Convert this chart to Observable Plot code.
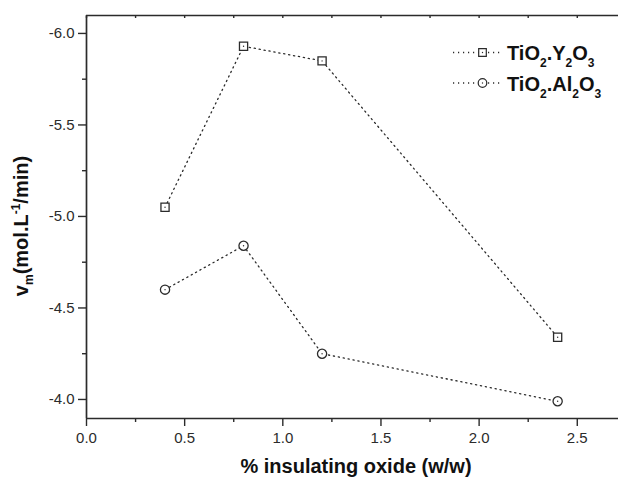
<!DOCTYPE html>
<html><head><meta charset="utf-8">
<script src="https://cdn.jsdelivr.net/npm/d3@7"></script>
<script src="https://cdn.jsdelivr.net/npm/@observablehq/plot@0.6"></script>
<style>
body{margin:0;background:#fff}
#chart svg{font-family:"Liberation Sans",Arial,sans-serif;background:#fff}
</style>
</head><body><div id="chart"></div>
<script>
const xPct = [0.4, 0.8, 1.2, 2.4];
const vmY2O3 = [-5.05, -5.93, -5.85, -4.34];
const vmAl2O3 = [-4.60, -4.84, -4.25, -3.99];
const xTicks = [0, 0.5, 1.0, 1.5, 2.0, 2.5];
const xMinor = [0.25, 0.75, 1.25, 1.75, 2.25];
const yTicks = [-6.0, -5.5, -5.0, -4.5, -4.0];
const yMinor = [-5.75, -5.25, -4.75, -4.25];
const seriesNames = ["TiO2.Y2O3", "TiO2.Al2O3"];
const seriesSymbols = ["square", "circle"];

const data = [
  ...xPct.map((x, i) => ({x, y: vmY2O3[i], s: seriesNames[0]})),
  ...xPct.map((x, i) => ({x, y: vmAl2O3[i], s: seriesNames[1]}))
];

const ink = "#2b2b2b";
const fmt = d => d.toFixed(1);

const plot = Plot.plot({
  width: 618,
  height: 478,
  marginLeft: 86,
  marginRight: 0,
  marginTop: 15,
  marginBottom: 60,
  x: {domain: [0, 2.71]},
  y: {domain: [-3.896, -6.098]},
  marks: [
    Plot.line(data, {x: "x", y: "y", z: "s", stroke: ink, strokeWidth: 1.3, strokeDasharray: "1.2,3.8"}),
    Plot.dot(data, {x: "x", y: "y", symbol: d => seriesSymbols[seriesNames.indexOf(d.s)], r: 4.6, fill: "white", stroke: ink, strokeWidth: 1.3}),
    Plot.dot(data, {x: "x", y: "y", r: 0.7, fill: ink}),
    Plot.axisY(yTicks, {tickSize: 8, tickPadding: 4, tickFormat: fmt, fontSize: 15, color: ink, strokeWidth: 1.4, label: null}),
    Plot.axisY(yMinor, {tickSize: 4, text: null, color: ink, strokeWidth: 1.4, label: null}),
    Plot.axisX(xTicks, {tickSize: 8, tickPadding: 6, tickFormat: fmt, fontSize: 15, color: ink, strokeWidth: 1.4, label: null}),
    Plot.axisX(xMinor, {tickSize: 4, text: null, color: ink, strokeWidth: 1.4, label: null}),
    Plot.axisX(xTicks.concat(xMinor), {anchor: "top", tickSize: -2, text: null, color: ink, strokeWidth: 1.4, label: null}),
    Plot.ruleY([-6.098, -3.896], {stroke: ink, strokeWidth: 1.7}),
    Plot.ruleX([0], {stroke: ink, strokeWidth: 1.7})
  ]
});

document.getElementById("chart").appendChild(plot);
const svg = d3.select(plot);

// x axis label
svg.append("text")
  .attr("x", 356).attr("y", 473)
  .attr("text-anchor", "middle")
  .attr("font-size", 20).attr("font-weight", "bold").attr("fill", "#111")
  .text("% insulating oxide (w/w)");

// y axis label
const yl = svg.append("text")
  .attr("transform", "translate(28,226) rotate(-90)")
  .attr("text-anchor", "middle")
  .attr("font-size", 20).attr("font-weight", "bold").attr("fill", "#111");
yl.append("tspan").text("v");
yl.append("tspan").attr("font-size", 12).attr("dy", 5).text("m");
yl.append("tspan").attr("dy", -5).text("(mol.L");
yl.append("tspan").attr("font-size", 12).attr("dy", -8).text("-1");
yl.append("tspan").attr("dy", 8).text("/min)");

// legend
const legendRows = [
  {name: seriesNames[0], parts: [["TiO", 0], ["2", 1], [".Y", 0], ["2", 1], ["O", 0], ["3", 1]], symbol: seriesSymbols[0], y: 52.5},
  {name: seriesNames[1], parts: [["TiO", 0], ["2", 1], [".Al", 0], ["2", 1], ["O", 0], ["3", 1]], symbol: seriesSymbols[1], y: 83}
];
legendRows.forEach(row => {
  const g = svg.append("g");
  g.append("line").attr("x1", 453).attr("x2", 501).attr("y1", row.y).attr("y2", row.y)
    .attr("stroke", ink).attr("stroke-width", 1.3).attr("stroke-dasharray", "1.2,3.8");
  const sym = d3.symbol(row.symbol === "square" ? d3.symbolSquare : d3.symbolCircle, 4.3 * 4.3 * Math.PI);
  g.append("path").attr("d", sym()).attr("transform", `translate(482.5,${row.y})`)
    .attr("fill", "white").attr("stroke", ink).attr("stroke-width", 1.2);
  g.append("circle").attr("cx", 482.5).attr("cy", row.y).attr("r", 0.7).attr("fill", ink);
  const t = g.append("text").attr("x", 507).attr("y", row.y + 7.5)
    .attr("text-anchor", "start")
    .attr("font-size", 20).attr("font-weight", "bold").attr("fill", "#111");
  let prevSub = 0;
  row.parts.forEach(([s, sub]) => {
    const ts = t.append("tspan").text(s);
    if (sub) ts.attr("font-size", 12);
    const dy = (sub ? 7 : 0) - (prevSub ? 7 : 0);
    if (dy) ts.attr("dy", dy);
    prevSub = sub;
  });
});
</script>
</body></html>
